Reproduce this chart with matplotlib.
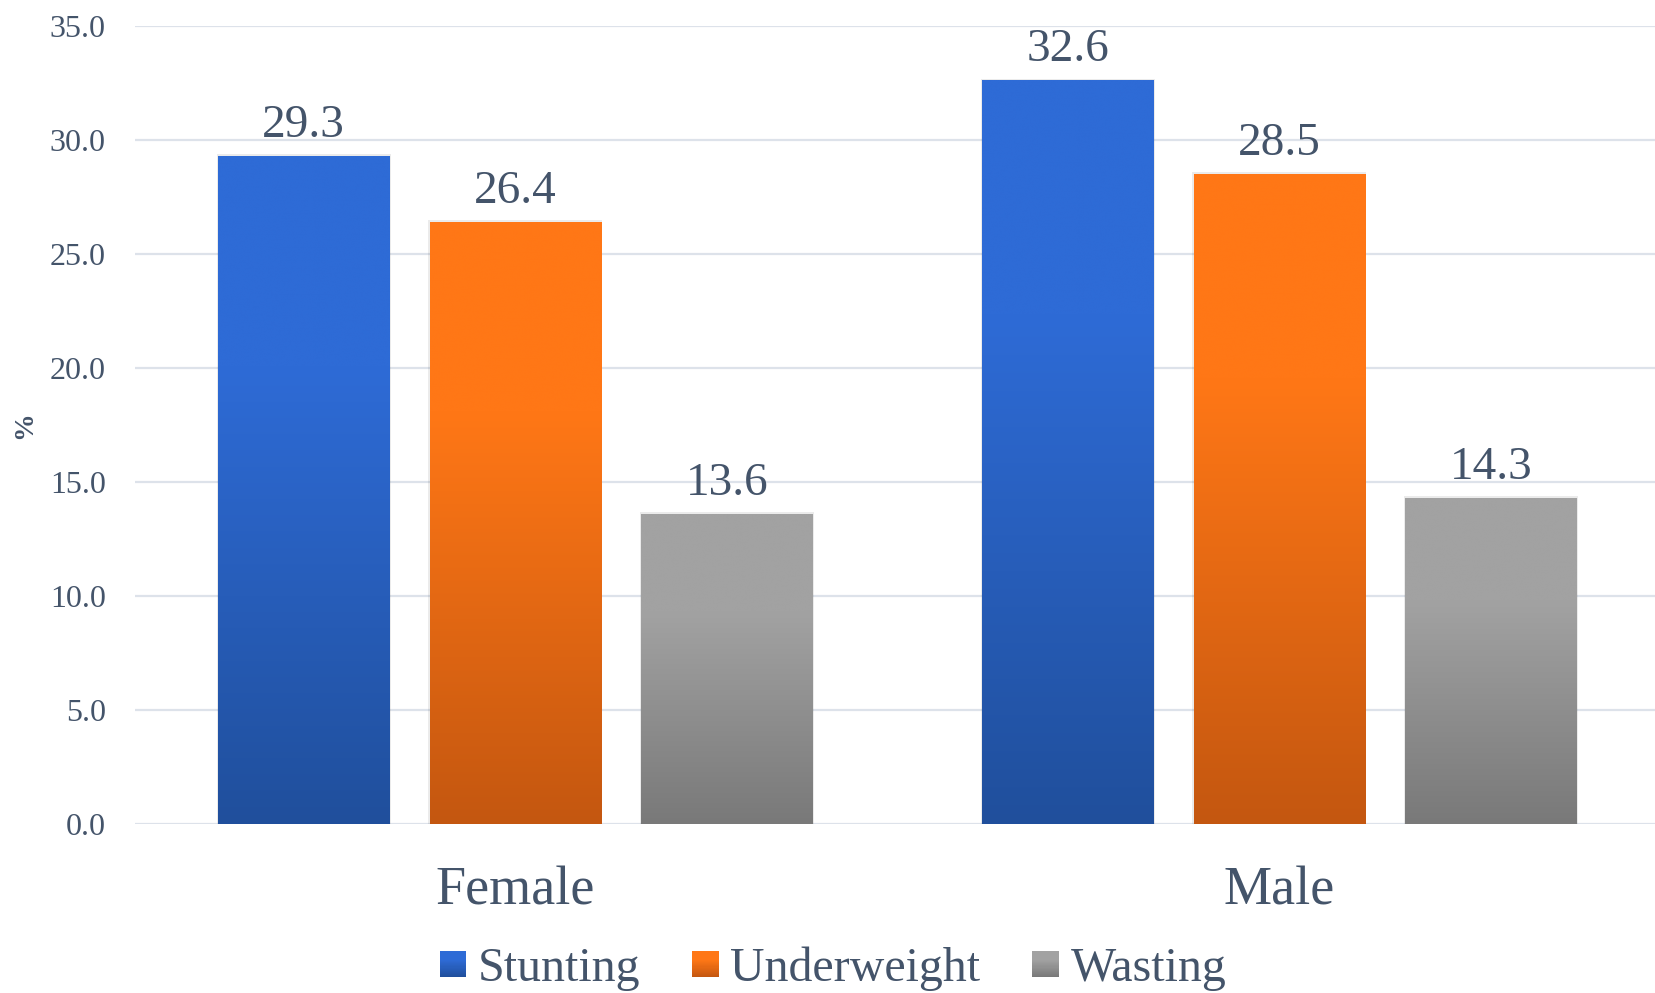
import numpy as np
import matplotlib
matplotlib.use("Agg")
import matplotlib.pyplot as plt
from matplotlib.patches import Patch, Rectangle
from matplotlib.colors import LinearSegmentedColormap
from matplotlib.legend_handler import HandlerBase

categories = ["Female", "Male"]
series = ["Stunting", "Underweight", "Wasting"]
stunting = [29.3, 32.6]
underweight = [26.4, 28.5]
wasting = [13.6, 14.3]
yticks = [0, 5, 10, 15, 20, 25, 30, 35]

top_cols = ["#2E6BD6", "#FF7716", "#A2A2A2"]
bot_cols = ["#204F9C", "#C45710", "#797979"]
txt = "#44546A"

plt.rcParams['font.family'] = ['Liberation Serif', 'DejaVu Serif']

cmaps = [LinearSegmentedColormap.from_list(
    f"g{k}", [(0, bot_cols[k]), (0.68, top_cols[k]), (1, top_cols[k])]) for k in range(3)]


class GradientHandler(HandlerBase):
    def __init__(self, cmap, n=24):
        super().__init__()
        self.cmap = cmap
        self.n = n

    def create_artists(self, legend, orig_handle, xdescent, ydescent, width, height,
                       fontsize, trans):
        side = min(width, height)
        x0 = -xdescent + (width - side) / 2
        y0 = -ydescent + (height - side) / 2
        arts = []
        for i in range(self.n):
            c = self.cmap(i / (self.n - 1))
            r = Rectangle((x0, y0 + side * i / self.n), side, side / self.n * 1.05,
                          facecolor=c, edgecolor='none', transform=trans)
            arts.append(r)
        return arts


fig = plt.figure(figsize=(16.55, 9.93), dpi=100)
ax = fig.add_axes([135/1655, 1-824/993, 1-135/1655, (824-25.7)/993])

values = [stunting, underweight, wasting]
x = np.arange(len(categories))
offs = [-0.277, 0.0, 0.277]
width = 0.224

for k, vals in enumerate(values):
    bars = ax.bar(x + offs[k], vals, width=width, facecolor='none', edgecolor='none', zorder=3)
    for b in bars:
        x0, y0 = b.get_x(), b.get_y()
        w, h = b.get_width(), b.get_height()
        sh = Rectangle((x0 - 0.002, y0), w + 0.004, h + 0.08, facecolor='#000000',
                       alpha=0.08, edgecolor='none', zorder=2.5)
        ax.add_patch(sh)
        grad = np.linspace(0, 1, 256).reshape(-1, 1)
        im = ax.imshow(grad, extent=[x0, x0 + w, y0, y0 + h], origin='lower',
                       cmap=cmaps[k], aspect='auto', zorder=3, interpolation='bicubic')
        im.set_clip_path(b)
        ax.text(x0 + w/2, h + 0.4, f"{h:.1f}", ha='center', va='bottom',
                fontsize=34, color=txt, zorder=4)

ax.set_xlim(-0.498, 1.492)
ax.set_ylim(0, 35)
ax.set_yticks(yticks)
ax.set_yticklabels([f"{t:.1f}" for t in yticks], fontsize=23, color=txt)
ax.set_xticks(x)
ax.set_xticklabels(categories, fontsize=39, color=txt)
ax.tick_params(axis='y', length=0, pad=21)
ax.tick_params(axis='x', length=0, pad=30)
ax.grid(axis='y', color='#DDE2EA', linewidth=1.6, zorder=0)
ax.set_axisbelow(True)
for s in ax.spines.values():
    s.set_visible(False)

ax.set_ylabel("%", fontsize=20, fontweight='bold', color=txt, labelpad=0)
ax.yaxis.set_label_coords(-(135-37)/1520, 0.5)

handles = [Patch(facecolor=top_cols[k], edgecolor='none') for k in range(3)]
fig.legend(handles, series, loc='center', bbox_to_anchor=(833/1655, 1-969/993),
           ncol=3, frameon=False, fontsize=34.5, handlelength=0.55, handleheight=0.55,
           handletextpad=0.25, columnspacing=1.08, labelcolor=txt,
           handler_map={handles[k]: GradientHandler(cmaps[k]) for k in range(3)})

fig.savefig("out.png", dpi=100, facecolor='white')
